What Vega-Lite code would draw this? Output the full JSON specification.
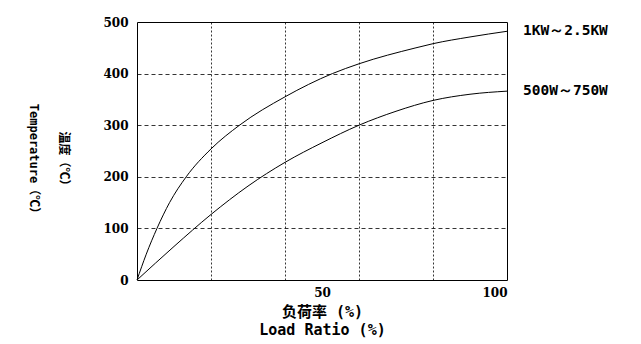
{
  "$schema": "https://vega.github.io/schema/vega-lite/v6.json",
  "width": 370,
  "height": 258,
  "autosize": "none",
  "padding": {"left": 137, "top": 22, "right": 134, "bottom": 64},
  "background": "white",
  "config": {
    "view": {"stroke": "black", "strokeWidth": 1},
    "axis": {
      "labelFont": "DejaVu Serif",
      "labelFontWeight": "bold",
      "labelFontSize": 12,
      "labelColor": "black",
      "titleFont": "'DejaVu Sans Mono', 'Noto Sans CJK SC'",
      "titleFontWeight": "bold",
      "titleFontSize": 15,
      "titleColor": "black",
      "ticks": false,
      "domain": false,
      "gridColor": "black",
      "gridWidth": 0.8
    }
  },
  "datasets": {
    "curves": [
      {"load": 0, "temp": 0, "series": "1KW～2.5KW"},
      {"load": 2.5, "temp": 50, "series": "1KW～2.5KW"},
      {"load": 5.4, "temp": 100, "series": "1KW～2.5KW"},
      {"load": 8.8, "temp": 150, "series": "1KW～2.5KW"},
      {"load": 13.3, "temp": 200, "series": "1KW～2.5KW"},
      {"load": 20, "temp": 254, "series": "1KW～2.5KW"},
      {"load": 27.7, "temp": 300, "series": "1KW～2.5KW"},
      {"load": 40, "temp": 355, "series": "1KW～2.5KW"},
      {"load": 52.8, "temp": 400, "series": "1KW～2.5KW"},
      {"load": 60, "temp": 419, "series": "1KW～2.5KW"},
      {"load": 75.4, "temp": 450, "series": "1KW～2.5KW"},
      {"load": 80, "temp": 458, "series": "1KW～2.5KW"},
      {"load": 90, "temp": 471, "series": "1KW～2.5KW"},
      {"load": 100, "temp": 482, "series": "1KW～2.5KW"},
      {"load": 0, "temp": 0, "series": "500W～750W"},
      {"load": 10, "temp": 65, "series": "500W～750W"},
      {"load": 20, "temp": 127, "series": "500W～750W"},
      {"load": 30, "temp": 182, "series": "500W～750W"},
      {"load": 40, "temp": 228, "series": "500W～750W"},
      {"load": 50, "temp": 266, "series": "500W～750W"},
      {"load": 60, "temp": 300, "series": "500W～750W"},
      {"load": 70, "temp": 327, "series": "500W～750W"},
      {"load": 80, "temp": 348, "series": "500W～750W"},
      {"load": 90, "temp": 360, "series": "500W～750W"},
      {"load": 100, "temp": 366, "series": "500W～750W"}
    ]
  },
  "data": {"name": "curves"},
  "layer": [
    {
      "mark": {"type": "line", "interpolate": "monotone", "color": "black", "strokeWidth": 1},
      "encoding": {
        "x": {
          "field": "load",
          "type": "quantitative",
          "scale": {"domain": [0, 100], "nice": false},
          "axis": {
            "values": [20, 40, 50, 60, 80, 100],
            "labelExpr": "datum.value == 50 || datum.value == 100 ? datum.label : ''",
            "labelPadding": 7,
            "gridDash": [2, 2],
            "gridOpacity": {"condition": {"test": "datum.value == 50 || datum.value == 100", "value": 0}, "value": 1},
            "title": ["负荷率 (%)", "Load Ratio (%)"],
            "titleLineHeight": 18,
            "titlePadding": 6
          }
        },
        "y": {
          "field": "temp",
          "type": "quantitative",
          "scale": {"domain": [0, 500], "nice": false},
          "axis": {
            "values": [0, 50, 100, 150, 200, 250, 300, 350, 400, 450, 500],
            "labelExpr": "datum.value % 100 == 0 ? datum.label : ''",
            "labelPadding": 9,
            "gridDash": [4, 3],
            "gridOpacity": {"condition": {"test": "datum.value == 0 || datum.value == 500", "value": 0}, "value": 1},
            "title": ["温度（℃）", "Temperature（℃）"],
            "titleFontSize": 12,
            "titleAngle": 90,
            "titleAlign": "center",
            "titleBaseline": "middle",
            "titleLineHeight": 30,
            "titleX": -74,
            "titleY": 139
          }
        },
        "detail": {"field": "series"}
      }
    },
    {
      "transform": [{"filter": "datum.load == 100"}],
      "mark": {"type": "text", "align": "left", "baseline": "middle", "dx": 16, "font": "DejaVu Sans Mono", "fontWeight": "bold", "fontSize": 14.5, "color": "black"},
      "encoding": {
        "x": {"field": "load", "type": "quantitative"},
        "y": {"field": "temp", "type": "quantitative"},
        "text": {"field": "series"}
      }
    }
  ]
}
